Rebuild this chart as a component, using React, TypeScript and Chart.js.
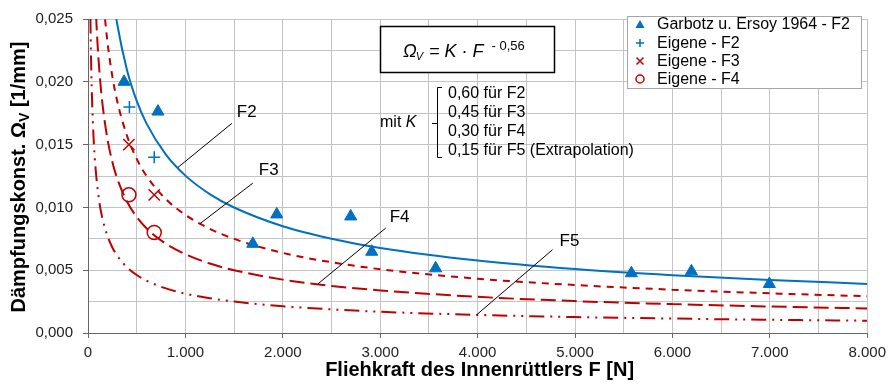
import React, { useEffect, useRef } from 'react';
import { Chart, registerables } from 'chart.js';

Chart.register(...registerables);

// ---------- data ----------
const xTickLabels = ['0', '1.000', '2.000', '3.000', '4.000', '5.000', '6.000', '7.000', '8.000'];
const yTickLabels = ['0,000', '0,005', '0,010', '0,015', '0,020', '0,025'];

// Fitted curves  Ω_V = K · F^-0,56
const curveF2X = [250, 300, 400, 500, 600, 800, 1000, 1250, 1500, 2000, 2500, 3000, 4000, 5000, 6000, 7000, 8000];
const curveF2Y = [0.02725, 0.0246, 0.02094, 0.01848, 0.01669, 0.0142, 0.01253, 0.01106, 0.00999, 0.0085, 0.00751, 0.00677, 0.00577, 0.00509, 0.0046, 0.00422, 0.00391];

const curveF3X = [125, 150, 200, 250, 300, 400, 500, 600, 800, 1000, 1250, 1500, 2000, 2500, 3000, 4000, 5000, 6000, 7000, 8000];
const curveF3Y = [0.03013, 0.02721, 0.02316, 0.02043, 0.01845, 0.01571, 0.01386, 0.01251, 0.01065, 0.0094, 0.0083, 0.00749, 0.00638, 0.00563, 0.00508, 0.00432, 0.00382, 0.00345, 0.00316, 0.00293];

const curveF4X = [60, 80, 100, 125, 150, 200, 250, 300, 400, 500, 600, 800, 1000, 1250, 1500, 2000, 2500, 3000, 4000, 5000, 6000, 7000, 8000];
const curveF4Y = [0.0303, 0.0258, 0.02276, 0.02009, 0.01814, 0.01544, 0.01362, 0.0123, 0.01047, 0.00924, 0.00834, 0.0071, 0.00627, 0.00553, 0.005, 0.00425, 0.00375, 0.00339, 0.00288, 0.00254, 0.0023, 0.00211, 0.00196];

const curveF5X = [20, 30, 40, 50, 60, 80, 100, 125, 150, 200, 250, 300, 400, 500, 600, 800, 1000, 1250, 1500, 2000, 2500, 3000, 4000, 5000, 6000, 7000, 8000];
const curveF5Y = [0.028, 0.0223, 0.019, 0.0168, 0.0151, 0.0129, 0.0114, 0.01, 0.00907, 0.00772, 0.00681, 0.00615, 0.00524, 0.00462, 0.00417, 0.00355, 0.00313, 0.00277, 0.0025, 0.00213, 0.00188, 0.00169, 0.00144, 0.00127, 0.00115, 0.00105, 0.00098];

// Measured points
const garbotzX = [370, 718, 1692, 1938, 2697, 2913, 3569, 5579, 6195, 6995];
const garbotzY = [0.0200, 0.01763, 0.0071, 0.00944, 0.00928, 0.00647, 0.00515, 0.00476, 0.00491, 0.0039];

const eigeneF2X = [425, 680];
const eigeneF2Y = [0.0180, 0.0140];
const eigeneF3X = [420, 680];
const eigeneF3Y = [0.0150, 0.0110];
const eigeneF4X = [420, 680];
const eigeneF4Y = [0.0110, 0.0080];

const legendLabels = ['Garbotz u. Ersoy 1964 - F2', 'Eigene - F2', 'Eigene - F3', 'Eigene - F4'];
const kLabels = ['0,60 für F2', '0,45 für F3', '0,30 für F4', '0,15 für F5 (Extrapolation)'];

// Curve labels with leader lines (data units)
const leaderLabels = ['F2', 'F3', 'F4', 'F5'];
const leaderTextX = [1528, 1754, 3097, 4841];
const leaderTextY = [0.01755, 0.01295, 0.0092, 0.00733];
const leaderFromX = [1477, 1692, 3056, 4769];
const leaderFromY = [0.01669, 0.01193, 0.00835, 0.00663];
const leaderToX = [923, 1149, 2359, 3990];
const leaderToY = [0.01318, 0.0087, 0.0039, 0.00145];

// ---------- styles ----------
const BLUE = '#0070C0';
const RED = '#C00000';
const FONT = '"Liberation Sans", Arial, sans-serif';
const GRID = '#c4c4c4';
const AXIS = '#666666';

const pts = (xs: number[], ys: number[]) => xs.map((x, i) => ({ x, y: ys[i] }));

const overlayPlugin = {
  id: 'overlay',
  afterDraw(chart: any) {
    const ctx: CanvasRenderingContext2D = chart.ctx;
    const xs = chart.scales.x;
    const ys = chart.scales.y;
    ctx.save();

    // leader lines + labels
    ctx.strokeStyle = '#000';
    ctx.lineWidth = 1;
    ctx.fillStyle = '#000';
    ctx.font = `17px ${FONT}`;
    ctx.textBaseline = 'middle';
    ctx.textAlign = 'left';
    for (let i = 0; i < leaderLabels.length; i++) {
      ctx.beginPath();
      ctx.moveTo(xs.getPixelForValue(leaderFromX[i]), ys.getPixelForValue(leaderFromY[i]));
      ctx.lineTo(xs.getPixelForValue(leaderToX[i]), ys.getPixelForValue(leaderToY[i]));
      ctx.stroke();
      ctx.fillText(leaderLabels[i], xs.getPixelForValue(leaderTextX[i]), ys.getPixelForValue(leaderTextY[i]));
    }

    // formula box
    ctx.fillStyle = '#fff';
    ctx.fillRect(380, 26, 174, 46);
    ctx.strokeStyle = '#000';
    ctx.lineWidth = 1.5;
    ctx.strokeRect(380.5, 26.5, 174, 46);
    ctx.fillStyle = '#000';
    ctx.textBaseline = 'alphabetic';
    let fx = 403;
    const fb = 57;
    ctx.font = `italic 18px ${FONT}`;
    ctx.fillText('Ω', fx, fb);
    fx += ctx.measureText('Ω').width;
    ctx.font = `italic 11px ${FONT}`;
    ctx.fillText('V', fx - 1, fb + 3);
    fx += ctx.measureText('V').width;
    ctx.font = `italic 18px ${FONT}`;
    ctx.fillText(' = K · F', fx, fb);
    fx += ctx.measureText(' = K · F').width;
    ctx.font = `13px ${FONT}`;
    ctx.fillText('- 0,56', fx + 8, 50);

    // "mit K" with bracket
    ctx.font = `16px ${FONT}`;
    ctx.textBaseline = 'middle';
    ctx.fillText('mit ', 380, 123);
    const mw = ctx.measureText('mit ').width;
    ctx.font = `italic 16px ${FONT}`;
    ctx.fillText('K', 380 + mw, 123);
    ctx.lineWidth = 1;
    ctx.beginPath();
    ctx.moveTo(442, 87.5);
    ctx.lineTo(437.5, 87.5);
    ctx.lineTo(437.5, 157.5);
    ctx.lineTo(442, 157.5);
    ctx.moveTo(432, 123.5);
    ctx.lineTo(437.5, 123.5);
    ctx.stroke();
    ctx.font = `16px ${FONT}`;
    const kY = [94, 113, 132, 151];
    kLabels.forEach((t, i) => ctx.fillText(t, 448, kY[i]));

    // legend
    ctx.fillStyle = '#fff';
    ctx.fillRect(627, 16, 234, 72);
    ctx.strokeStyle = '#a6a6a6';
    ctx.lineWidth = 1;
    ctx.strokeRect(627.5, 16.5, 234, 72);
    const ly = [24.5, 43, 61, 79];
    const mx = 640;
    // triangle
    ctx.fillStyle = BLUE;
    ctx.beginPath();
    ctx.moveTo(mx, ly[0] - 4.5);
    ctx.lineTo(mx + 4.5, ly[0] + 3.5);
    ctx.lineTo(mx - 4.5, ly[0] + 3.5);
    ctx.closePath();
    ctx.fill();
    // plus
    ctx.strokeStyle = BLUE;
    ctx.lineWidth = 1.5;
    ctx.beginPath();
    ctx.moveTo(mx - 4, ly[1]);
    ctx.lineTo(mx + 4, ly[1]);
    ctx.moveTo(mx, ly[1] - 4);
    ctx.lineTo(mx, ly[1] + 4);
    ctx.stroke();
    // x
    ctx.strokeStyle = RED;
    ctx.beginPath();
    ctx.moveTo(mx - 3.5, ly[2] - 3.5);
    ctx.lineTo(mx + 3.5, ly[2] + 3.5);
    ctx.moveTo(mx + 3.5, ly[2] - 3.5);
    ctx.lineTo(mx - 3.5, ly[2] + 3.5);
    ctx.stroke();
    // circle
    ctx.beginPath();
    ctx.arc(mx, ly[3], 4, 0, Math.PI * 2);
    ctx.stroke();
    ctx.fillStyle = '#000';
    ctx.font = `16px ${FONT}`;
    ctx.textBaseline = 'middle';
    legendLabels.forEach((t, i) => ctx.fillText(t, 657, ly[i] + 0.5));

    // axis titles
    const area = chart.chartArea;
    ctx.font = `bold 20px ${FONT}`;
    ctx.textAlign = 'center';
    ctx.textBaseline = 'alphabetic';
    ctx.fillText('Fliehkraft des Innenrüttlers F [N]', (area.left + area.right) / 2 + 2, 376);

    ctx.save();
    ctx.translate(25, (area.top + area.bottom) / 2 + 1);
    ctx.rotate(-Math.PI / 2);
    ctx.textAlign = 'left';
    const p1 = 'Dämpfungskonst. Ω';
    const p2 = 'V';
    const p3 = ' [1/mm]';
    ctx.font = `bold 20px ${FONT}`;
    const w1 = ctx.measureText(p1).width;
    const w3 = ctx.measureText(p3).width;
    ctx.font = `bold 14px ${FONT}`;
    const w2 = ctx.measureText(p2).width;
    const total = w1 + w2 + w3;
    let tx = -total / 2;
    ctx.font = `bold 20px ${FONT}`;
    ctx.fillText(p1, tx, 0);
    tx += w1;
    ctx.font = `bold 14px ${FONT}`;
    ctx.fillText(p2, tx, 4);
    tx += w2;
    ctx.font = `bold 20px ${FONT}`;
    ctx.fillText(p3, tx, 0);
    ctx.restore();

    ctx.restore();
  },
};

export default function App() {
  const ref = useRef<HTMLCanvasElement | null>(null);

  useEffect(() => {
    document.body.style.margin = '0';
    const canvas = ref.current!;
    const curveCommon = {
      type: 'line' as const,
      pointRadius: 0,
      borderWidth: 2,
      fill: false,
      cubicInterpolationMode: 'monotone' as const,
      borderColor: RED,
      backgroundColor: RED,
    };
    const chart = new Chart(canvas, {
      type: 'scatter',
      data: {
        datasets: [
          {
            label: legendLabels[0],
            data: pts(garbotzX, garbotzY),
            pointStyle: 'triangle',
            pointRadius: 7,
            backgroundColor: BLUE,
            borderColor: BLUE,
            borderWidth: 1,
          },
          {
            label: legendLabels[1],
            data: pts(eigeneF2X, eigeneF2Y),
            pointStyle: 'cross',
            pointRadius: 6,
            borderColor: BLUE,
            borderWidth: 1.5,
          },
          {
            label: legendLabels[2],
            data: pts(eigeneF3X, eigeneF3Y),
            pointStyle: 'crossRot',
            pointRadius: 8,
            borderColor: RED,
            borderWidth: 1.5,
          },
          {
            label: legendLabels[3],
            data: pts(eigeneF4X, eigeneF4Y),
            pointStyle: 'circle',
            pointRadius: 7,
            borderColor: RED,
            backgroundColor: 'rgba(0,0,0,0)',
            borderWidth: 1.5,
          },
          { ...curveCommon, label: 'F2', data: pts(curveF2X, curveF2Y), borderColor: BLUE, backgroundColor: BLUE },
          { ...curveCommon, label: 'F3', data: pts(curveF3X, curveF3Y), borderDash: [7, 6] },
          { ...curveCommon, label: 'F4', data: pts(curveF4X, curveF4Y), borderDash: [15, 6] },
          { ...curveCommon, label: 'F5', data: pts(curveF5X, curveF5Y), borderDash: [15, 6, 2, 6, 2, 6] },
        ] as any,
      },
      options: {
        responsive: false,
        animation: false,
        devicePixelRatio: 1,
        layout: { padding: { left: 0, right: 24, top: 12, bottom: 0 } },
        plugins: {
          legend: { display: false },
          tooltip: { enabled: false },
        },
        scales: {
          x: {
            type: 'linear',
            min: 0,
            max: 8000,
            afterFit: (s: any) => {
              s.height = 53;
            },
            ticks: {
              stepSize: 500,
              autoSkip: false,
              maxRotation: 0,
              padding: 6,
              color: '#222',
              font: { family: FONT, size: 15 },
              callback: (v: any) => (Math.round(v) % 1000 === 0 ? xTickLabels[Math.round(v / 1000)] : ''),
            },
            grid: {
              color: GRID,
              lineWidth: 1,
              drawTicks: true,
              tickLength: 5,
              tickColor: (c: any) => (c.tick && Math.round(c.tick.value) % 1000 === 0 ? AXIS : 'rgba(0,0,0,0)'),
            },
            border: { color: AXIS, width: 1 },
          },
          y: {
            type: 'linear',
            min: 0,
            max: 0.025,
            afterFit: (s: any) => {
              s.width = 88;
            },
            ticks: {
              stepSize: 0.0025,
              autoSkip: false,
              padding: 10,
              color: '#222',
              font: { family: FONT, size: 15 },
              callback: (v: any) => {
                const k = Math.round(v / 0.0025);
                return k % 2 === 0 ? yTickLabels[k / 2] : '';
              },
            },
            grid: {
              color: GRID,
              lineWidth: 1,
              drawTicks: true,
              tickLength: 5,
              tickColor: (c: any) => (c.tick && Math.round(c.tick.value / 0.0025) % 2 === 0 ? AXIS : 'rgba(0,0,0,0)'),
            },
            border: { color: AXIS, width: 1 },
          },
        },
      },
      plugins: [overlayPlugin],
    } as any);
    return () => chart.destroy();
  }, []);

  return (
    <div style={{ width: 892, height: 386, background: '#fff' }}>
      <canvas ref={ref} width={892} height={386} style={{ display: 'block' }} />
    </div>
  );
}
